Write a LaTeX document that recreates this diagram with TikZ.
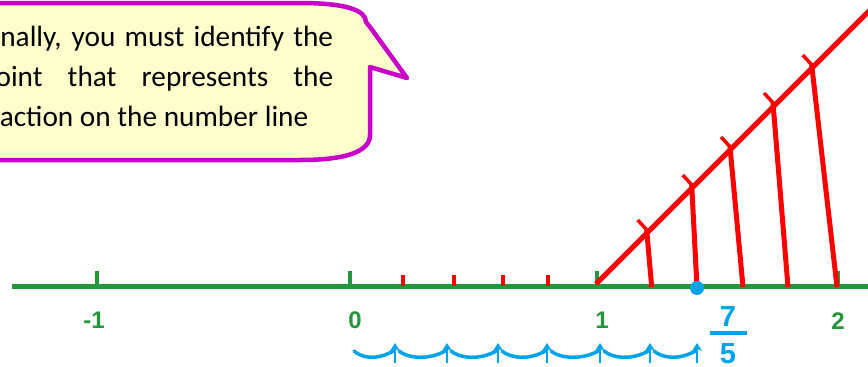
\documentclass[tikz,border=0pt]{standalone}
\usepackage{fontspec}
\setmainfont{Carlito}
\newfontfamily\numfont{Liberation Sans}
\usetikzlibrary{arrows.meta}
\definecolor{axisgreen}{RGB}{36,150,60}
\definecolor{callfill}{RGB}{255,255,204}
\definecolor{callborder}{RGB}{200,0,200}
\definecolor{hopblue}{RGB}{0,162,232}
\definecolor{redline}{RGB}{255,0,0}
\tikzset{
  axisline/.style={draw=axisgreen, line width=5pt},
  greentick/.style={draw=axisgreen, line width=3.5pt},
  redtick/.style={draw=redline, line width=3.5pt},
  redstroke/.style={draw=redline, line width=5pt},
  callout/.style={fill=callfill, draw=callborder, line width=4.5pt, line join=round},
  calltext/.style={anchor=base west, inner sep=0pt, font=\fontsize{29.3}{34}\selectfont},
  numlabel/.style={inner sep=0pt, text=axisgreen, font=\numfont\bfseries\fontsize{24}{24}\selectfont},
  fraclabel/.style={inner sep=0pt, text=hopblue, font=\numfont\bfseries\fontsize{29}{29}\selectfont},
  hop/.style={draw=hopblue, line width=3.5pt, line cap=round},
  hoparrow/.style={draw=hopblue, line width=2.5pt, -{Stealth[length=8pt,width=10pt]}}
}
\begin{document}
\begin{tikzpicture}[x=1pt,y=-1pt]
\useasboundingbox (0,0) rectangle (868,367);
\clip (0,0) rectangle (868,367);

% callout
\draw[callout] (-20,3) -- (300,3) .. controls (345,3) and (366,10) .. (366,22)
  -- (370,27) -- (407,78) -- (370,67) -- (370,135)
  .. controls (370,152) and (345,160) .. (300,160) -- (-20,160) -- cycle;
\node[calltext] (l1) at (-20,46.7) {\makebox[353pt][s]{Finally, you must identify the}};
\node[calltext] (l2) at (-20,86.7) {\makebox[353pt][s]{point that represents the}};
\node[calltext] (l3) at (-19,126.7) {fraction on the number line};

% number line
\coordinate (axL) at (12,286);
\coordinate (axR) at (880,286);
\draw[axisline] (axL) -- (axR);
\foreach \x/\n in {97/m1,350/z,597/o,838/t}{
  \coordinate (g\n) at (\x,286);
  \coordinate (gt\n) at (\x,271);
  \draw[greentick] (g\n) -- (gt\n);
}
\foreach \x [count=\i] in {403,454,503,548}{
  \coordinate (r\i) at (\x,286);
  \coordinate (rt\i) at (\x,275);
  \draw[redtick] (r\i) -- (rt\i);
}

% diagonal
\coordinate (d0) at (596,284);
\coordinate (d9) at (880,0);
\draw[redstroke] (d0) -- (d9);
\foreach \px/\py/\qx [count=\k] in {646.7/230/651.7, 691.7/185/697, 730/147/743, 773/103/788, 811.7/65/837}{
  \coordinate (p\k) at (\px,\py);
  \coordinate (q\k) at (\qx,287);
  \coordinate (ta\k) at (\px-9,\py-10);
  \coordinate (tb\k) at (\px+3,\py+3);
  \draw[redstroke] (p\k) -- (q\k);
  \draw[redtick] (ta\k) -- (tb\k);
}

% blue dot
\coordinate (dot) at (697,288);
\fill[hopblue] (dot) circle (7);

% labels
\node[numlabel] (lm1) at (94,320) {-1};
\node[numlabel] (l0) at (355,320) {0};
\node[numlabel] (lone) at (602,320) {1};
\node[numlabel] (ltwo) at (838,321) {2};

% fraction
\node[fraclabel] (seven) at (728,317) {7};
\node[fraclabel] (five) at (728,354) {5};
\coordinate (barL) at (710,333);
\coordinate (barR) at (747,333);
\draw[draw=hopblue, line width=4pt] (barL) -- (barR);

% hops
\foreach \s/\e [count=\h] in {350/395,395/447,447/498,498/547,547/600,600/650,650/697}{
  \coordinate (hs\h) at (\s+4,351);
  \coordinate (he\h) at (\e,350);
  \coordinate (hb\h) at (\e,363);
  \coordinate (hu\h) at (\e,343);
  \draw[hop] (hs\h) .. controls (\s+12,358) and (\e-18,361) .. (he\h);
  \draw[hoparrow] (hb\h) -- (hu\h);
}
\end{tikzpicture}
\end{document}
